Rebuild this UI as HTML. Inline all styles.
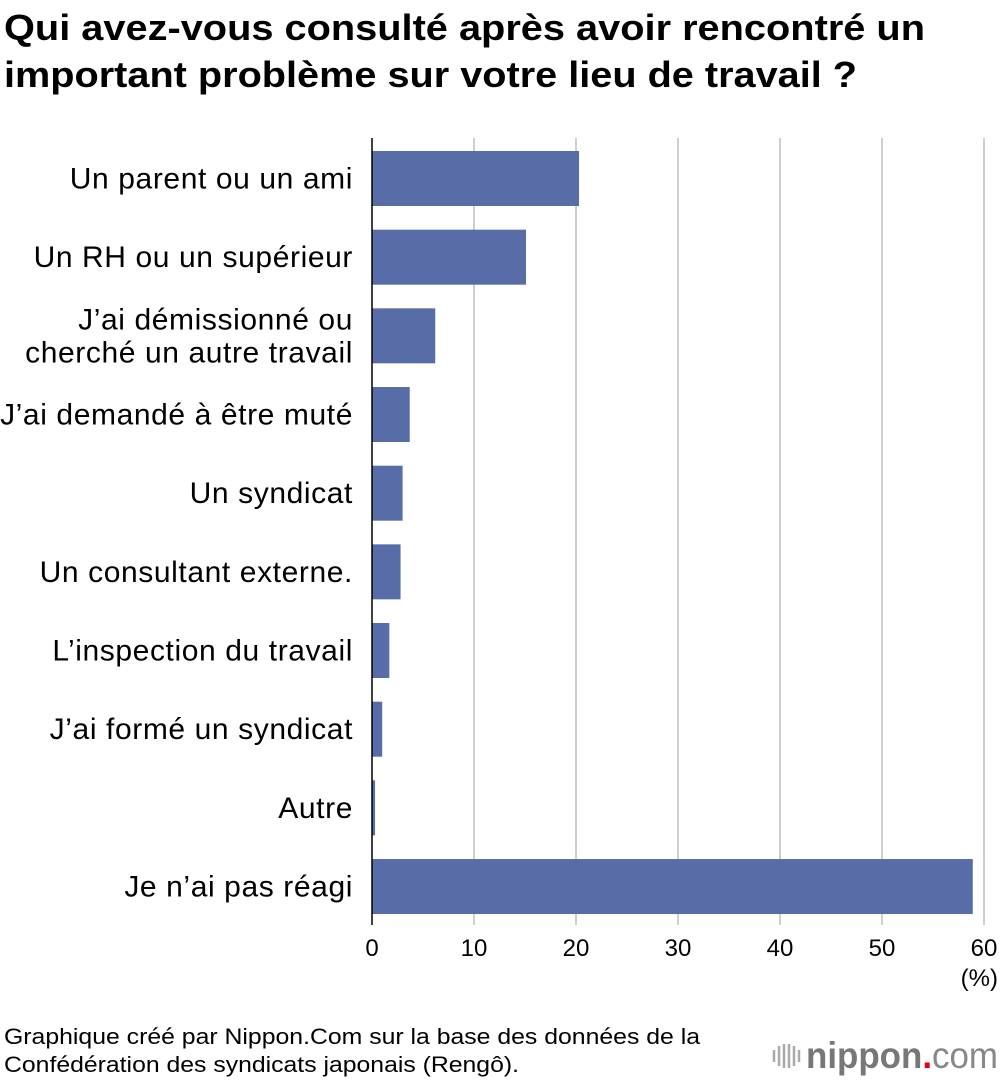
<!DOCTYPE html>
<html><head><meta charset="utf-8">
<style>
body{margin:0;background:#fff;font-family:"Liberation Sans",Arial,sans-serif;}
#c{position:relative;width:1000px;height:1080px;overflow:hidden;}
</style></head>
<body>
<div id="c">
<svg id="s" width="1000" height="1080" xmlns="http://www.w3.org/2000/svg">
<text x="4" y="40" font-size="36" font-weight="bold" fill="#000" textLength="921" lengthAdjust="spacingAndGlyphs">Qui avez-vous consulté après avoir rencontré un</text>
<text x="4" y="87" font-size="36" font-weight="bold" fill="#000" textLength="853" lengthAdjust="spacingAndGlyphs">important problème sur votre lieu de travail ?</text>
<g id="grid"></g>
<g id="bars"></g>
<g id="labels"></g>
<g id="ticks"></g>
<line x1="372" y1="138" x2="372" y2="925" stroke="#000" stroke-width="1.5"/>
<text x="998" y="986" font-size="24" text-anchor="end" fill="#000">(%)</text>
<text x="4" y="1044" font-size="22" fill="#000" textLength="696" lengthAdjust="spacingAndGlyphs">Graphique créé par Nippon.Com sur la base des données de la</text>
<text x="4" y="1072" font-size="22" fill="#000" textLength="515" lengthAdjust="spacingAndGlyphs">Confédération des syndicats japonais (Rengô).</text>
<g>
<g stroke="#aaa" stroke-width="2.5">
<line x1="774" y1="1050" x2="774" y2="1062"/><line x1="779" y1="1046" x2="779" y2="1066"/><line x1="784" y1="1044" x2="784" y2="1068"/><line x1="789" y1="1044" x2="789" y2="1068"/><line x1="794" y1="1046" x2="794" y2="1066"/><line x1="799" y1="1050" x2="799" y2="1062"/>
</g>
<text x="806" y="1068" font-size="37" font-weight="bold" fill="#777" textLength="192" lengthAdjust="spacingAndGlyphs">nippon<tspan fill="#e60012">.</tspan><tspan font-weight="normal" fill="#888">com</tspan></text>
</g>
</svg>
</div>
<script>
const categories=[["Un parent ou un ami"],["Un RH ou un supérieur"],["J’ai démissionné ou","cherché un autre travail"],["J’ai demandé à être muté"],["Un syndicat"],["Un consultant externe."],["L’inspection du travail"],["J’ai formé un syndicat"],["Autre"],["Je n’ai pas réagi"]];
const values=[20.3,15.1,6.2,3.7,3.0,2.8,1.7,1.0,0.3,58.9];
const tickValues=[0,10,20,30,40,50,60];
const NS="http://www.w3.org/2000/svg";
const x0=372,pxPer=10.2,top0=151,step=78.67,bh=55;
const xs=v=>x0+v*pxPer;
const ys=i=>top0+i*step;
function mk(t,a){const e=document.createElementNS(NS,t);for(const k in a)e.setAttribute(k,a[k]);return e;}
const g=document.getElementById('grid'),b=document.getElementById('bars'),l=document.getElementById('labels'),t=document.getElementById('ticks');
tickValues.forEach(v=>{
 if(v>0){const ln=mk('line',{x1:xs(v),x2:xs(v),y1:138,y2:925,stroke:'#cfcfcf','stroke-width':2});
 
 
 g.appendChild(ln);}
 const tx=mk('text',{x:xs(v),y:956,'font-size':24,'text-anchor':'middle',fill:'#000'});
 tx.textContent=v;
 
 
 t.appendChild(tx);
});
values.forEach((v,i)=>{
 const r=mk('rect',{x:x0,y:ys(i),width:xs(v)-x0,height:bh,fill:'#586ca7'});
 
 
 b.appendChild(r);
 const lines=categories[i];const cy=ys(i)+bh/2;
 lines.forEach((s,j)=>{
  const y=cy+10+(j-(lines.length-1)/2)*33;
  const tx=mk('text',{x:353,y:y,'font-size':30,'text-anchor':'end',fill:'#000','letter-spacing':0.6});
  tx.textContent=s;
  
  
  l.appendChild(tx);
 });
});
</script>
</body></html>
